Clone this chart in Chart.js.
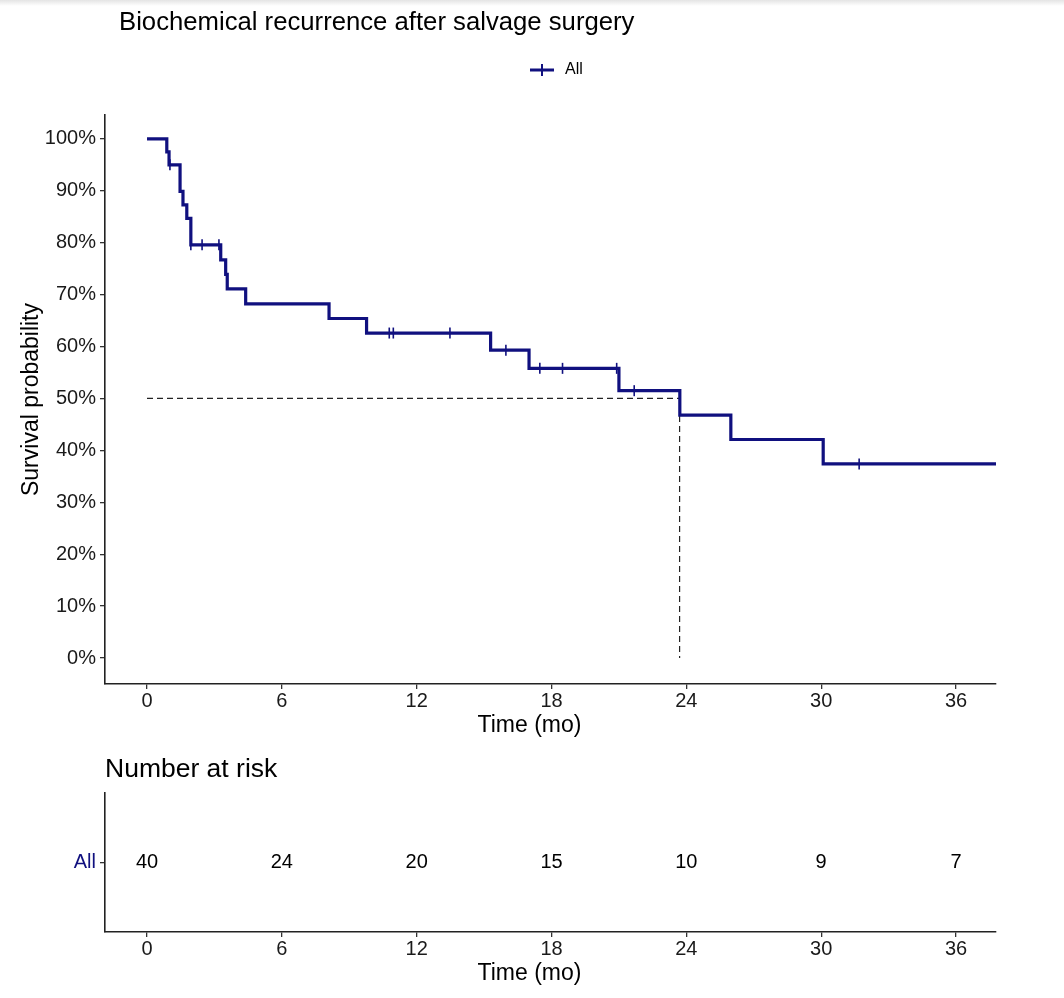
<!DOCTYPE html>
<html><head><meta charset="utf-8">
<script src="https://cdn.jsdelivr.net/npm/chart.js@4.4.0/dist/chart.umd.min.js"></script>
<style>
html,body{margin:0;padding:0;background:#fff;width:1064px;height:998px;overflow:hidden;}
#topband{position:absolute;left:0;top:0;width:1064px;height:6px;background:linear-gradient(#e4e4e4,#ffffff);}
#main{position:absolute;left:0;top:0;}
#risk{position:absolute;left:0;top:750px;}
</style></head><body>
<div id="topband"></div>
<canvas id="main" width="1064" height="750"></canvas>
<canvas id="risk" width="1064" height="248"></canvas>
<script>
// ---- data ----
const chartTitle = 'Biochemical recurrence after salvage surgery';
const riskTitle = 'Number at risk';
const seriesName = 'All';
const xTitle = 'Time (mo)';
const yTitle = 'Survival probability';
const eventTimes = [0, 0.88, 0.98, 1.47, 1.60, 1.77, 1.95, 3.28, 3.50, 3.57, 4.39, 8.10, 9.77, 15.29, 17.00, 21.00, 23.71, 25.98, 30.09, 37.78];
const survival   = [1, 0.975, 0.95, 0.899, 0.873, 0.847, 0.796, 0.767, 0.739, 0.711, 0.682, 0.654, 0.626, 0.593, 0.558, 0.515, 0.468, 0.421, 0.374, 0.374];
const censorTimes    = [1.02, 1.95, 2.45, 3.20, 10.78, 10.96, 13.48, 15.97, 17.48, 18.49, 20.90, 21.68, 31.69];
const censorSurvival = [0.95, 0.796, 0.796, 0.796, 0.626, 0.626, 0.626, 0.593, 0.558, 0.558, 0.558, 0.515, 0.374];
const medianTime = 23.7;
const medianLevel = 0.5;
const xTickValues = [0, 6, 12, 18, 24, 30, 36];
const yTickValues = [0, 0.1, 0.2, 0.3, 0.4, 0.5, 0.6, 0.7, 0.8, 0.9, 1.0];
const riskTimes  = [0, 6, 12, 18, 24, 30, 36];
const riskCounts = [40, 24, 20, 15, 10, 9, 7];

// ---- styles ----
const NAVY = '#10107f';
const FONT = '"Liberation Sans", Arial, Helvetica, sans-serif';
Chart.defaults.font.family = FONT;
Chart.defaults.color = '#1a1a1a';

const xMin = -1.87, xMax = 37.78;

function xScaleCfg() {
  return {
    type: 'linear', min: xMin, max: xMax,
    afterBuildTicks: ax => { ax.ticks = xTickValues.map(v => ({ value: v })); },
    ticks: { font: { size: 20 }, color: '#1a1a1a', padding: 0, callback: v => String(v), maxRotation: 0, autoSkip: false },
    grid: { display: true, drawOnChartArea: false, drawTicks: true, tickLength: 5, color: '#333', lineWidth: 1.3 },
    border: { display: true, color: '#222', width: 1.6 },
    title: { display: false },
    afterFit: s => { s.height = 66; }
  };
}

function drawXTitle(chart) {
  const ctx = chart.ctx;
  const xs = chart.scales.x;
  ctx.save();
  ctx.fillStyle = '#000';
  ctx.textBaseline = 'middle';
  ctx.textAlign = 'center';
  ctx.font = '23px ' + FONT;
  ctx.fillText(xTitle, (xs.left + xs.right) / 2 - 21, xs.bottom - 24);
  ctx.restore();
}

const mainText = {
  id: 'mainText',
  afterDraw(chart) {
    const ctx = chart.ctx;
    drawXTitle(chart);
    ctx.save();
    ctx.fillStyle = '#000';
    ctx.textBaseline = 'middle';
    ctx.textAlign = 'left';
    ctx.font = '25.7px ' + FONT;
    ctx.fillText(chartTitle, chart.chartArea.left + 14, 23);
    // legend
    ctx.strokeStyle = NAVY;
    ctx.lineWidth = 3;
    ctx.beginPath(); ctx.moveTo(530, 70); ctx.lineTo(554, 70); ctx.stroke();
    ctx.lineWidth = 2;
    ctx.beginPath(); ctx.moveTo(542, 64); ctx.lineTo(542, 76); ctx.stroke();
    ctx.font = '16px ' + FONT;
    ctx.fillStyle = '#000';
    ctx.fillText(seriesName, 565, 70);
    ctx.restore();
  }
};

new Chart(document.getElementById('main'), {
  type: 'scatter',
  data: {
    datasets: [
      {
        type: 'line', label: seriesName,
        data: eventTimes.map((t, i) => ({ x: t, y: survival[i] })),
        stepped: 'before', borderColor: NAVY, borderWidth: 3.2, pointRadius: 0, fill: false,
        borderJoinStyle: 'miter', borderCapStyle: 'butt'
      },
      {
        type: 'scatter', label: 'censor',
        data: censorTimes.map((t, i) => ({ x: t, y: censorSurvival[i] })),
        pointStyle: 'line', rotation: 90, radius: 5.5, borderWidth: 1.6, borderColor: NAVY, backgroundColor: NAVY
      },
      {
        type: 'line', label: 'median',
        data: [{ x: 0, y: medianLevel }, { x: medianTime, y: medianLevel }, { x: medianTime, y: 0 }],
        borderColor: '#222', borderWidth: 1.2, borderDash: [6, 4], pointRadius: 0, fill: false
      }
    ]
  },
  options: {
    responsive: false, animation: false, devicePixelRatio: 1,
    layout: { padding: { left: 0, top: 115, right: 68, bottom: 0 } },
    plugins: { legend: { display: false }, tooltip: { enabled: false }, title: { display: false } },
    scales: {
      x: xScaleCfg(),
      y: {
        type: 'linear', min: -0.05, max: 1.046,
        afterBuildTicks: ax => { ax.ticks = yTickValues.map(v => ({ value: v })); },
        ticks: { font: { size: 20 }, color: '#1a1a1a', padding: 4, callback: v => Math.round(v * 100) + '%' },
        grid: { display: true, drawOnChartArea: false, drawTicks: true, tickLength: 5, color: '#333', lineWidth: 1.3 },
        border: { display: true, color: '#222', width: 1.6 },
        title: { display: true, text: yTitle, font: { size: 23 }, color: '#000', padding: { top: 18, bottom: 0 } },
        afterFit: s => { s.width = 105; }
      }
    }
  },
  plugins: [mainText]
});

const riskText = {
  id: 'riskText',
  afterDatasetsDraw(chart) {
    const ctx = chart.ctx;
    const xs = chart.scales.x, ys = chart.scales.y;
    ctx.save();
    ctx.fillStyle = '#000';
    ctx.textBaseline = 'middle';
    ctx.textAlign = 'center';
    ctx.font = '20px ' + FONT;
    riskTimes.forEach((t, i) => {
      ctx.fillText(String(riskCounts[i]), xs.getPixelForValue(t), ys.getPixelForValue(0));
    });
    ctx.textAlign = 'left';
    ctx.font = '26.5px ' + FONT;
    ctx.fillText(riskTitle, chart.chartArea.left, 20);
    ctx.restore();
  },
  afterDraw(chart) { drawXTitle(chart); }
};

new Chart(document.getElementById('risk'), {
  type: 'scatter',
  data: {
    datasets: [{
      label: seriesName,
      data: riskTimes.map(t => ({ x: t, y: 0 })),
      pointRadius: 0
    }]
  },
  options: {
    responsive: false, animation: false, devicePixelRatio: 1,
    layout: { padding: { left: 0, top: 43, right: 68, bottom: 0 } },
    plugins: { legend: { display: false }, tooltip: { enabled: false } },
    scales: {
      x: xScaleCfg(),
      y: {
        type: 'linear', min: -1, max: 1,
        afterBuildTicks: ax => { ax.ticks = [{ value: 0 }]; },
        ticks: { font: { size: 20 }, color: NAVY, padding: 4, callback: () => seriesName },
        grid: { display: true, drawOnChartArea: false, drawTicks: true, tickLength: 5, color: '#333', lineWidth: 1.3 },
        border: { display: true, color: '#222', width: 1.6 },
        afterFit: s => { s.width = 105; }
      }
    }
  },
  plugins: [riskText]
});
</script>
</body></html>
